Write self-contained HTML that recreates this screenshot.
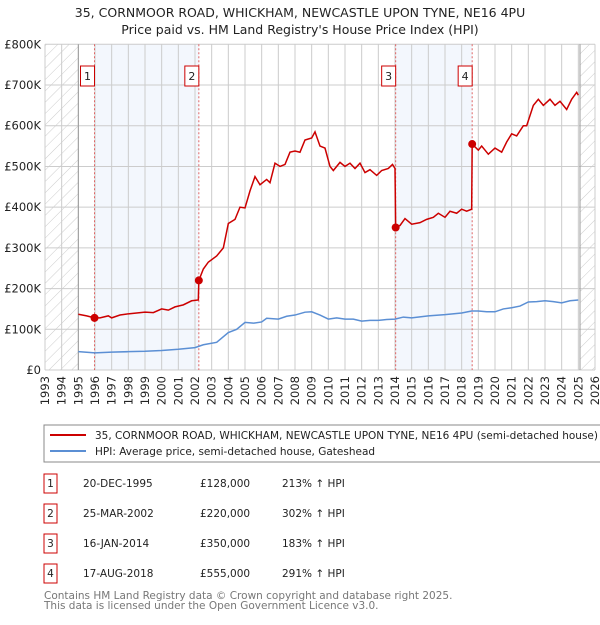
<!DOCTYPE html>
<html><head><meta charset="utf-8"><style>
body{margin:0;background:#fff;font-family:"Liberation Sans","DejaVu Sans",sans-serif;}
svg text{font-family:"DejaVu Sans","Liberation Sans",sans-serif;}
</style></head><body>
<svg id="c" width="600" height="620" xmlns="http://www.w3.org/2000/svg">
<defs><pattern id="h" width="8" height="8" patternUnits="userSpaceOnUse" patternTransform="rotate(45)"><line x1="0" y1="0" x2="0" y2="8" stroke="#ccc" stroke-width="1"/></pattern></defs>
<text x="300" y="17" text-anchor="middle" font-size="12.5" fill="#222">35, CORNMOOR ROAD, WHICKHAM, NEWCASTLE UPON TYNE, NE16 4PU</text>
<text x="300" y="34" text-anchor="middle" font-size="12.5" fill="#222">Price paid vs. HM Land Registry's House Price Index (HPI)</text>
<g id="plot"></g>
<g>
<rect x="44" y="425" width="570" height="37" fill="#fff" stroke="#888"/>
<line x1="50" y1="435" x2="86" y2="435" stroke="#cc0000" stroke-width="2"/>
<text x="95" y="439" font-size="10.5" fill="#222">35, CORNMOOR ROAD, WHICKHAM, NEWCASTLE UPON TYNE, NE16 4PU (semi-detached house)</text>
<line x1="50" y1="451" x2="86" y2="451" stroke="#5b8fd4" stroke-width="2"/>
<text x="95" y="455" font-size="10.5" fill="#222">HPI: Average price, semi-detached house, Gateshead</text>
</g>
<g id="table" font-size="10.5" fill="#222"></g>
<text x="44" y="599" font-size="10.5" fill="#777">Contains HM Land Registry data © Crown copyright and database right 2025.</text>
<text x="44" y="609" font-size="10.5" fill="#777">This data is licensed under the Open Government Licence v3.0.</text>
</svg>
<script>
const years=[1993,1994,1995,1996,1997,1998,1999,2000,2001,2002,2003,2004,2005,2006,2007,2008,2009,2010,2011,2012,2013,2014,2015,2016,2017,2018,2019,2020,2021,2022,2023,2024,2025,2026];
const yTicks=[0,100,200,300,400,500,600,700,800];
const yTickLabels=["£0","£100K","£200K","£300K","£400K","£500K","£600K","£700K","£800K"];
const priceT=[1995.0,1995.5,1995.97,1996.3,1996.8,1997.0,1997.5,1998,1998.5,1999,1999.5,2000,2000.4,2000.8,2001.3,2001.8,2002.2,2002.23,2002.5,2002.8,2003.3,2003.7,2004.0,2004.4,2004.7,2005.0,2005.3,2005.6,2005.9,2006.3,2006.5,2006.8,2007.1,2007.4,2007.7,2008.0,2008.3,2008.6,2009.0,2009.2,2009.5,2009.8,2010.1,2010.3,2010.7,2011.0,2011.3,2011.6,2011.9,2012.2,2012.5,2012.9,2013.2,2013.6,2013.85,2014.0,2014.04,2014.3,2014.6,2015.0,2015.5,2015.9,2016.3,2016.6,2017.0,2017.3,2017.7,2018.0,2018.3,2018.6,2018.63,2019.0,2019.2,2019.6,2020.0,2020.4,2020.7,2021.0,2021.3,2021.7,2021.9,2022.3,2022.6,2022.9,2023.3,2023.6,2023.9,2024.3,2024.6,2024.9,2025.0];
const priceV=[137,133,128,128,133,128,135,138,140,142,141,150,147,155,160,170,172,220,248,265,280,300,360,370,400,398,440,475,455,468,460,508,500,505,535,538,535,565,570,585,550,545,500,490,510,500,508,495,508,485,492,478,490,495,505,495,350,355,372,358,362,370,375,385,375,390,385,395,390,395,555,540,550,530,545,535,560,580,575,600,600,650,665,650,665,650,660,640,665,682,675];
const hpiT=[1995,1996,1997,1998,1999,2000,2001,2002,2002.5,2003.3,2004,2004.5,2005,2005.5,2006,2006.3,2007,2007.5,2008,2008.6,2009,2009.5,2010,2010.5,2011,2011.5,2012,2012.5,2013,2013.5,2014,2014.5,2015,2016,2017,2018,2018.6,2019,2019.5,2020,2020.5,2021,2021.5,2022,2022.5,2023,2023.5,2024,2024.5,2025];
const hpiV=[45,42,44,45,46,48,51,55,62,68,92,100,117,115,118,127,125,132,135,142,143,135,125,128,125,125,120,122,122,124,125,130,128,133,136,140,145,145,143,143,150,153,157,167,168,170,168,165,170,172];
const saleLabels=["1","2","3","4"];
const saleT=[1995.97,2002.23,2014.04,2018.63];
const saleV=[128,220,350,555];
const saleDates=["20-DEC-1995","25-MAR-2002","16-JAN-2014","17-AUG-2018"];
const salePrices=["£128,000","£220,000","£350,000","£555,000"];
const saleHpi=["213% ↑ HPI","302% ↑ HPI","183% ↑ HPI","291% ↑ HPI"];

const X0=45,X1=595,Y0=370,Y1=44.3;
const xs=t=>X0+(t-1993)/(2026-1993)*(X1-X0);
const ys=v=>Y0-v/800*(Y0-Y1);
const NS="http://www.w3.org/2000/svg";
const g=document.getElementById('plot');
function mk(tag,at,parent){const e=document.createElementNS(NS,tag);for(const k in at)e.setAttribute(k,at[k]);(parent||g).appendChild(e);return e;}
let e;
e=mk('rect',{x:xs(1993),y:Y1,width:xs(1995)-xs(1993),height:Y0-Y1,fill:'url(#h)'});


e=mk('rect',{x:xs(2025.1),y:Y1,width:xs(2026)-xs(2025.1),height:Y0-Y1,fill:'url(#h)'});


[[0,1],[2,3]].forEach(p=>{
 e=mk('rect',{x:xs(saleT[p[0]]),y:Y1,width:xs(saleT[p[1]])-xs(saleT[p[0]]),height:Y0-Y1,fill:'#eef3fc',opacity:0.7});
 
 
});
years.forEach(y=>{
 e=mk('line',{x1:xs(y),x2:xs(y),y1:Y1,y2:Y0,stroke:'#ccc','stroke-width':1});
 
 
 e=mk('text',{x:0,y:0,transform:`translate(${xs(y)+4},${Y0+6}) rotate(-90)`,'text-anchor':'end','font-size':11.5,fill:'#222'});
 e.textContent=y;
 
 
});
yTicks.forEach((v,i)=>{
 e=mk('line',{x1:X0,x2:X1,y1:ys(v),y2:ys(v),stroke:'#ccc','stroke-width':1});
 
 
 e=mk('text',{x:X0-4,y:ys(v)+4,'text-anchor':'end','font-size':11.5,fill:'#222'});
 e.textContent=yTickLabels[i];
 
 
});
e=mk('line',{x1:xs(1995),x2:xs(1995),y1:Y1,y2:Y0,stroke:'#999'});


e=mk('line',{x1:xs(2025.1),x2:xs(2025.1),y1:Y1,y2:Y0,stroke:'#999'});


saleT.forEach((t,i)=>{
 e=mk('line',{x1:xs(t),x2:xs(t),y1:Y1,y2:Y0,stroke:'#e06666','stroke-dasharray':'2,2'});
 
 
 e=mk('rect',{x:xs(t)-14,y:66,width:14,height:20,fill:'#fff',stroke:'#cc0000'});
 
 
 e=mk('text',{x:xs(t)-7,y:80,'text-anchor':'middle','font-size':11,fill:'#222'});
 e.textContent=saleLabels[i];
 
 
});
e=mk('polyline',{points:hpiT.map((t,i)=>xs(t)+','+ys(hpiV[i])).join(' '),fill:'none',stroke:'#5b8fd4','stroke-width':1.5});


e=mk('polyline',{points:priceT.map((t,i)=>xs(t)+','+ys(priceV[i])).join(' '),fill:'none',stroke:'#cc0000','stroke-width':1.5});


saleT.forEach((t,i)=>{
 e=mk('circle',{cx:xs(t),cy:ys(saleV[i]),r:4,fill:'#cc0000'});
 
 
});
const tb=document.getElementById('table');
saleLabels.forEach((l,i)=>{
 const y=487+i*30;
 e=mk('rect',{x:44,y:y-13,width:13,height:19,fill:'#fff',stroke:'#cc0000'},tb);
 
 
 [[50.5,l,'middle'],[83,saleDates[i],'start'],[200,salePrices[i],'start'],[282,saleHpi[i],'start']].forEach(c=>{
  e=mk('text',{x:c[0],y:y,'text-anchor':c[2]},tb);
  e.textContent=c[1];
  
  
 });
});
</script>
</body></html>
